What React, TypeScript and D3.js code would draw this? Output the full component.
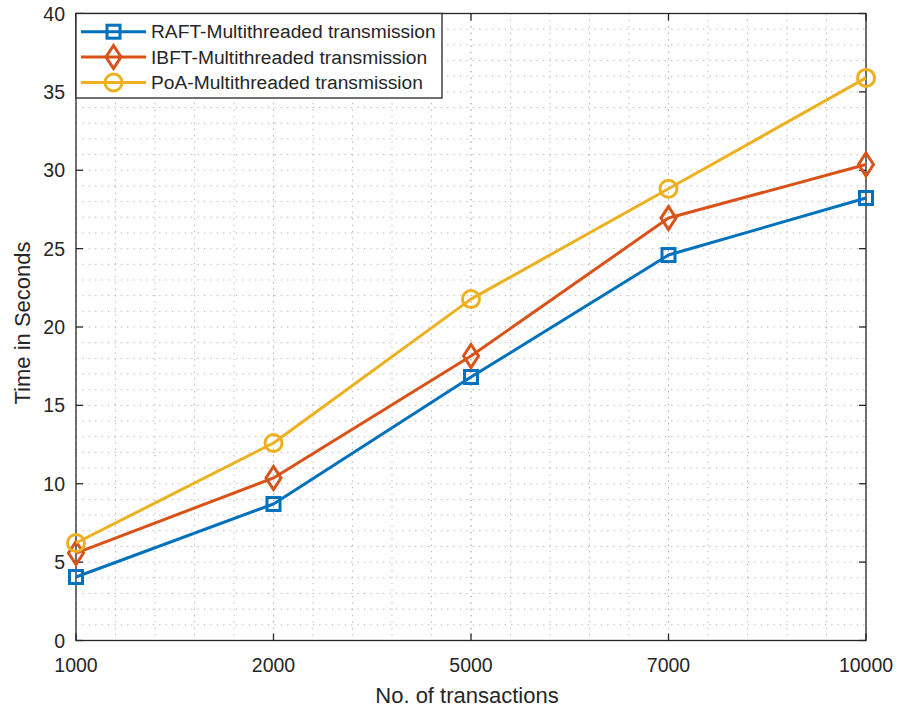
import React from "react";
import * as d3 from "d3";

// Transaction counts on the x axis (categorical, evenly spaced)
const transactions = ["1000", "2000", "5000", "7000", "10000"];

// Completion time in seconds per consensus protocol
const raftTimes = [4.05, 8.71, 16.81, 24.59, 28.23];
const ibftTimes = [5.58, 10.37, 18.15, 26.95, 30.37];
const poaTimes = [6.22, 12.6, 21.78, 28.82, 35.89];

const seriesNames = [
  "RAFT-Multithreaded transmission",
  "IBFT-Multithreaded transmission",
  "PoA-Multithreaded transmission",
];

const yTicks = [0, 5, 10, 15, 20, 25, 30, 35, 40];

const W = 898;
const H = 708;
const M = { left: 76, right: 866, top: 13.5, bottom: 640.5 };
const FONT = "'Liberation Sans', Arial, Helvetica, sans-serif";
const TEXT = "#262626";
const AXIS = "#262626";
const GRID = "#b0b0b0";

type Marker = "square" | "diamond" | "circle";

function MarkerShape({ kind, x, y, color }: { kind: Marker; x: number; y: number; color: string }) {
  const sw = 3;
  if (kind === "square") {
    const s = 13;
    return <rect x={x - s / 2} y={y - s / 2} width={s} height={s} fill="none" stroke={color} strokeWidth={sw} />;
  }
  if (kind === "diamond") {
    const hw = 7.5;
    const hh = 11.5;
    return (
      <path
        d={`M${x},${y - hh}L${x + hw},${y}L${x},${y + hh}L${x - hw},${y}Z`}
        fill="none"
        stroke={color}
        strokeWidth={sw}
      />
    );
  }
  return <circle cx={x} cy={y} r={8.5} fill="none" stroke={color} strokeWidth={sw} />;
}

export default function App() {
  const x = d3.scalePoint<string>().domain(transactions).range([M.left, M.right]);
  const y = d3.scaleLinear().domain([0, 40]).range([M.bottom, M.top]);

  const series = [
    { name: seriesNames[0], values: raftTimes, color: "#0072BD", marker: "square" as Marker },
    { name: seriesNames[1], values: ibftTimes, color: "#D95319", marker: "diamond" as Marker },
    { name: seriesNames[2], values: poaTimes, color: "#EDB120", marker: "circle" as Marker },
  ];

  const line = d3
    .line<[string, number]>()
    .x((d) => x(d[0]) as number)
    .y((d) => y(d[1]));

  // Minor grid: 1-second steps vertically, 5 subdivisions between categories horizontally
  const minorY = d3.range(0, 41, 1);
  const step = x.step();
  const minorX: number[] = [];
  for (let i = 0; i < transactions.length - 1; i++) {
    for (let k = 0; k <= 5; k++) minorX.push((x(transactions[i]) as number) + (step * k) / 5);
  }

  const tickLen = 7;

  // Legend layout
  const lg = { x0: M.left, y0: M.top, x1: 442, y1: 98 };
  const rowY = [31.7, 57, 82.5];

  return (
    <svg width={W} height={H} style={{ display: "block", position: "absolute", left: 0, top: 0 }}>
      <rect x={0} y={0} width={W} height={H} fill="#ffffff" />

      {/* dotted grid */}
      <g stroke={GRID} strokeWidth={1} strokeDasharray="1.2 5.2" fill="none">
        {minorY.map((v) => (
          <line key={`gy${v}`} x1={M.left} x2={M.right} y1={y(v)} y2={y(v)} />
        ))}
        {minorX.map((v, i) => (
          <line key={`gx${i}`} x1={v} x2={v} y1={M.top} y2={M.bottom} />
        ))}
      </g>

      {/* axes box */}
      <rect
        x={M.left}
        y={M.top}
        width={M.right - M.left}
        height={M.bottom - M.top}
        fill="none"
        stroke={AXIS}
        strokeWidth={1.3}
      />

      {/* ticks on all four sides, pointing inward */}
      <g stroke={AXIS} strokeWidth={1.3}>
        {transactions.map((t) => (
          <g key={`xt${t}`}>
            <line x1={x(t)} x2={x(t)} y1={M.bottom} y2={M.bottom - tickLen} />
            <line x1={x(t)} x2={x(t)} y1={M.top} y2={M.top + tickLen} />
          </g>
        ))}
        {yTicks.map((v) => (
          <g key={`yt${v}`}>
            <line x1={M.left} x2={M.left + tickLen} y1={y(v)} y2={y(v)} />
            <line x1={M.right} x2={M.right - tickLen} y1={y(v)} y2={y(v)} />
          </g>
        ))}
      </g>

      {/* tick labels */}
      <g fontFamily={FONT} fontSize={19.5} fill={TEXT}>
        {transactions.map((t) => (
          <text key={`xl${t}`} x={x(t)} y={672} textAnchor="middle">
            {t}
          </text>
        ))}
        {yTicks.map((v) => (
          <text key={`yl${v}`} x={65} y={y(v) + 7} textAnchor="end">
            {v}
          </text>
        ))}
      </g>

      {/* axis titles */}
      <text x={467} y={703} textAnchor="middle" fontFamily={FONT} fontSize={22} fill={TEXT}>
        No. of transactions
      </text>
      <text
        transform={`translate(30,${(M.top + M.bottom) / 2 - 4}) rotate(-90)`}
        textAnchor="middle"
        fontFamily={FONT}
        fontSize={22}
        fill={TEXT}
      >
        Time in Seconds
      </text>

      {/* series lines and markers */}
      {series.map((s) => {
        const pts = transactions.map((t, i) => [t, s.values[i]] as [string, number]);
        return (
          <g key={s.name}>
            <path d={line(pts) || ""} fill="none" stroke={s.color} strokeWidth={3} strokeLinejoin="round" />
            {pts.map((p) => (
              <MarkerShape key={p[0]} kind={s.marker} x={x(p[0]) as number} y={y(p[1])} color={s.color} />
            ))}
          </g>
        );
      })}

      {/* legend */}
      <rect
        x={lg.x0}
        y={lg.y0}
        width={lg.x1 - lg.x0}
        height={lg.y1 - lg.y0}
        fill="#ffffff"
        stroke={AXIS}
        strokeWidth={1.3}
      />
      {series.map((s, i) => (
        <g key={`lg${i}`}>
          <line x1={81} x2={146} y1={rowY[i]} y2={rowY[i]} stroke={s.color} strokeWidth={3} />
          <MarkerShape kind={s.marker} x={113.5} y={rowY[i]} color={s.color} />
          <text x={151} y={rowY[i] + 6.5} fontFamily={FONT} fontSize={19.2} fill={TEXT}>
            {s.name}
          </text>
        </g>
      ))}
    </svg>
  );
}
